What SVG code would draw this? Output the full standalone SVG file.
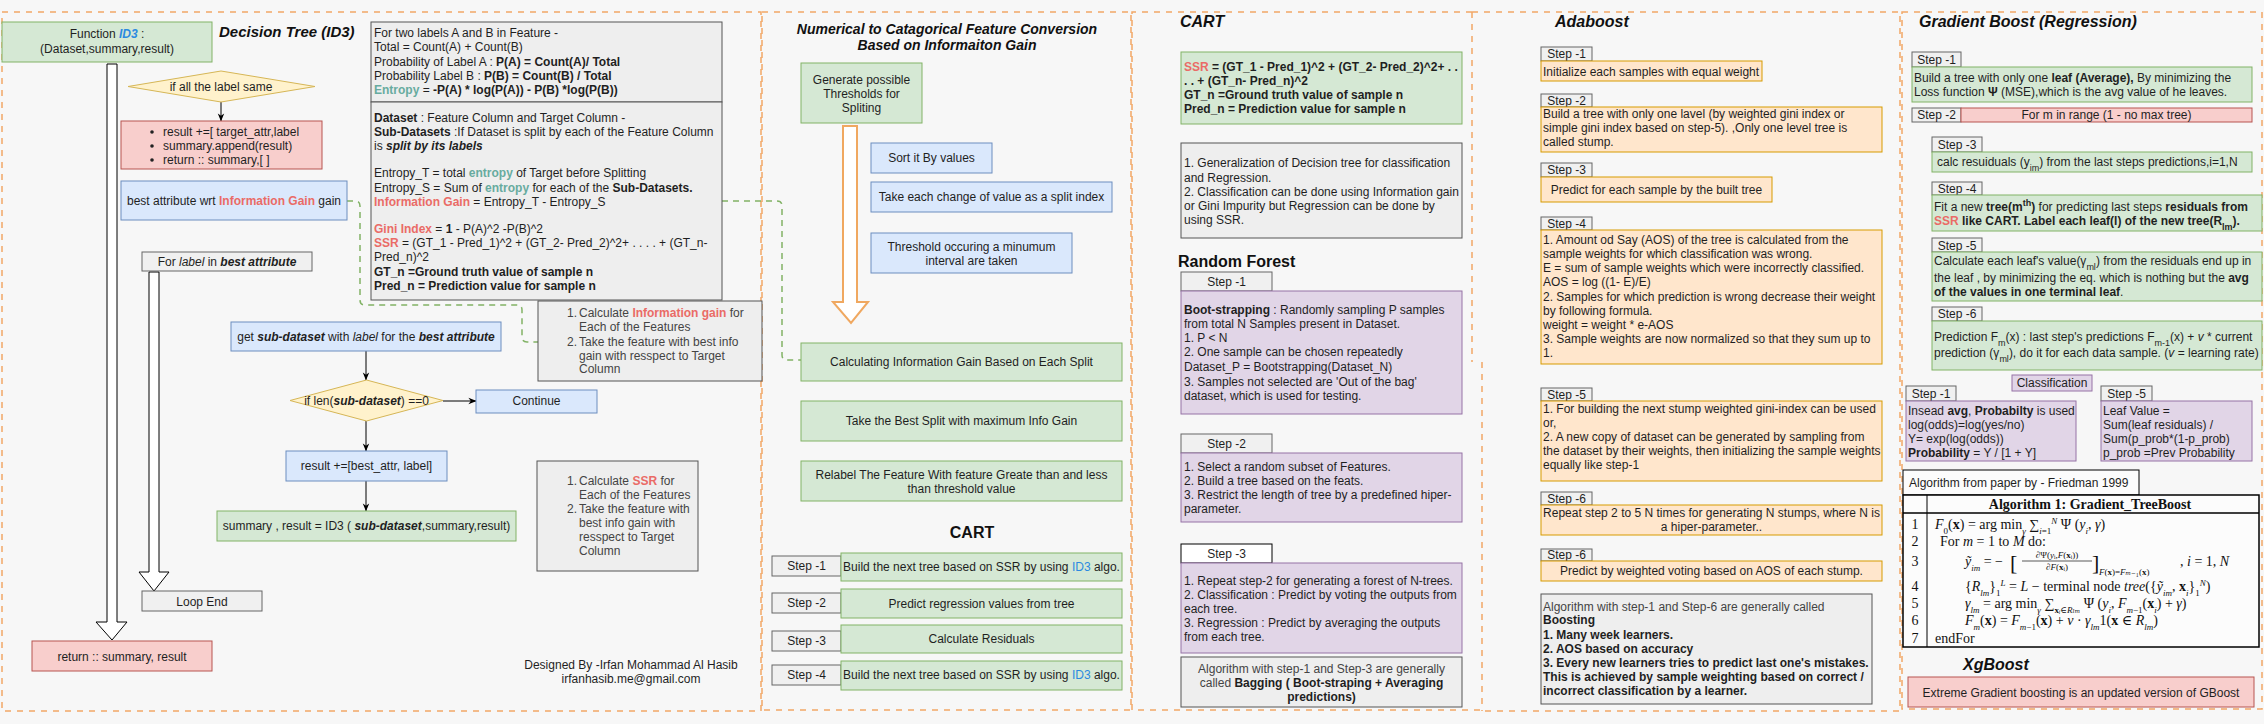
<svg xmlns="http://www.w3.org/2000/svg" width="2264" height="724" viewBox="0 0 2264 724">
<defs>
<marker id="ah" viewBox="0 0 10 10" refX="9.5" refY="5" markerWidth="8" markerHeight="8" orient="auto" markerUnits="userSpaceOnUse"><path d="M0,1 L10,5 L0,9 L3,5 Z" fill="#000"/></marker>
</defs>
<style>
text{font-family:"Liberation Sans",Arial,Helvetica,sans-serif;font-size:12px;fill:#1f1f1f}
.c{text-anchor:middle}
.b{font-weight:bold}
.i{font-style:italic}
.bi{font-weight:bold;font-style:italic}
.red{fill:#ea6b66;font-weight:bold}
.blue{fill:#2b8ae0}
.teal{fill:#67ab9f;font-weight:bold}
.h{font-weight:bold;font-style:italic;font-size:16px;fill:#111}
.hn{font-weight:bold;font-size:16px;fill:#111}
.sub{font-size:9px;baseline-shift:sub}
.sup{font-size:9px;baseline-shift:super}
.cont{fill:none;stroke:#f2a867;stroke-width:1.5;stroke-dasharray:6 6}
.gn{fill:#d5e8d4;stroke:#82b366}
.bl{fill:#dae8fc;stroke:#6c8ebf}
.rd{fill:#f8cecc;stroke:#b85450}
.yl{fill:#fff2cc;stroke:#d6b656}
.or{fill:#ffe6cc;stroke:#d79b00}
.pu{fill:#e1d5e7;stroke:#9673a6}
.gy{fill:#f0f0f0;stroke:#666}
.fb{fill:#eeeeee;stroke:#555}
.wt{fill:#fff;stroke:#000}
.ln{stroke:#000;stroke-width:1;fill:none;marker-end:url(#ah)}
.dg{stroke:#82b366;stroke-width:1.5;stroke-dasharray:6 5;fill:none}
.fa{fill:#fff;stroke:#000;stroke-width:1}
.oa{fill:#fff;stroke:#f0a860;stroke-width:2}
.m{font-family:"Liberation Serif","DejaVu Serif",serif;font-size:14px;fill:#111}
.gt{fill:#444}
</style>
<rect width="2264" height="724" fill="#f7f7f7"/>
<g id="containers">
<rect class="cont" x="2" y="12" width="759" height="699"/>
<rect class="cont" x="762" y="12" width="369" height="698"/>
<path class="cont" d="M1472,12 H1132 V710 H1482"/>
<path class="cont" d="M1472,12 V362"/>
<path class="cont" d="M1482,362 V711"/>
<path class="cont" d="M1472,12 H1900 V711 H1482"/>
<rect class="cont" x="1902" y="12" width="360" height="697"/>
</g>
<g id="connectors">
<path class="fa" d="M107,64 V622 H96 L112,640 L127,622 H117 V64 Z"/>
<path class="fa" d="M149,272 V572 H139 L154,591 L169,572 H159 V272 Z"/>
<line class="ln" x1="221" y1="102" x2="221" y2="121"/>
<line class="ln" x1="366" y1="351" x2="366" y2="380"/>
<line class="ln" x1="443" y1="401" x2="476" y2="401"/>
<line class="ln" x1="366" y1="421" x2="366" y2="451"/>
<line class="ln" x1="366" y1="481" x2="366" y2="511"/>
<path class="dg" d="M347,201 H355 Q360,201 360,206 V300 Q360,305 365,305 H517 Q522,305 522,310 V337 Q522,342 527,342 H538"/>
<path class="dg" d="M722,201 H777 Q782,201 782,206 V355 Q782,360 787,360 H801"/>
<path class="oa" d="M843,126 V302 H833 L851,323 L868,302 H857 V126 Z"/>
</g>

<!-- Decision tree -->
<g id="n-id3"><rect class="gn" x="2" y="22" width="210" height="40"/><text class="c" x="107" y="38">Function <tspan class="bi blue">ID3</tspan> :</text><text class="c" x="107" y="53">(Dataset,summary,result)</text></g>
<text id="t-dt" class="h" x="219" y="37" style="font-size:15px">Decision Tree (ID3)</text>
<g id="n-same"><polygon class="yl" points="221,71 315,86.5 221,102 128,86.5"/><text class="c" x="221" y="91">if all the label same</text></g>
<g id="n-leaf"><rect class="rd" x="121" y="121" width="201" height="48"/>
<circle cx="152" cy="132" r="1.8" fill="#222"/><circle cx="152" cy="146" r="1.8" fill="#222"/><circle cx="152" cy="160" r="1.8" fill="#222"/>
<text x="163" y="136">result +=[ target_attr,label</text><text x="163" y="150">summary.append(result)</text><text x="163" y="164">return ::  summary,[ ]</text></g>
<g id="n-best"><rect class="bl" x="121" y="181" width="226" height="39"/><text class="c" x="234" y="205">best attribute wrt <tspan class="red">Information Gain</tspan> gain</text></g>
<g id="n-for"><rect class="gy" x="142" y="252" width="170" height="19"/><text class="c" x="227" y="266">For <tspan class="i">label</tspan> in <tspan class="bi">best attribute</tspan></text></g>
<g id="n-loopend"><rect class="gy" x="142" y="591" width="120" height="20"/><text class="c" x="202" y="606">Loop End</text></g>
<g id="n-return"><rect class="rd" x="32" y="641" width="180" height="30"/><text class="c" x="122" y="661">return ::  summary, result</text></g>
<g id="n-sub"><rect class="bl" x="231" y="322" width="270" height="29"/><text class="c" x="366" y="341">get <tspan class="bi">sub-dataset</tspan> with <tspan class="i">label</tspan> for the <tspan class="bi">best attribute</tspan></text></g>
<g id="n-len"><polygon class="yl" points="366.5,380 443,400.5 366.5,421 290,400.5"/><text class="c" x="366.5" y="405">if len(<tspan class="bi">sub-dataset</tspan>) ==0</text></g>
<g id="n-continue"><rect class="bl" x="476" y="390" width="121" height="23"/><text class="c" x="536.5" y="405">Continue</text></g>
<g id="n-result"><rect class="bl" x="286" y="451" width="161" height="30"/><text class="c" x="366.5" y="470">result +=[best_attr, label]</text></g>
<g id="n-recurse"><rect class="gn" x="217" y="511" width="299" height="30"/><text class="c" x="366.5" y="530">summary , result = ID3 ( <tspan class="bi">sub-dataset</tspan>,summary,result)</text></g>
<g id="n-formulas">
<rect class="fb" x="371" y="22" width="351" height="80"/>
<rect class="fb" x="371" y="102" width="351" height="198"/>
<text x="374" y="37">For two labels A and B in Feature -</text>
<text x="374" y="51">Total = Count(A) + Count(B)</text>
<text x="374" y="66">Probability of Label A : <tspan class="b">P(A) = Count(A)/ Total</tspan></text>
<text x="374" y="80">Probability Label B : <tspan class="b">P(B) = Count(B) / Total</tspan></text>
<text x="374" y="94"><tspan class="teal">Entropy</tspan> =  <tspan class="b">-P(A) * log(P(A))  - P(B) *log(P(B))</tspan></text>
<text x="374" y="122"><tspan class="b">Dataset</tspan> : Feature Column and Target Column -</text>
<text x="374" y="136"><tspan class="b">Sub-Datasets</tspan> :If Dataset is split by each of the Feature Column</text>
<text x="374" y="150">is <tspan class="bi">split by its labels</tspan></text>
<text x="374" y="177">Entropy_T = total <tspan class="teal">entropy</tspan> of Target before Splitting</text>
<text x="374" y="192">Entropy_S = Sum of <tspan class="teal">entropy</tspan> for each of the <tspan class="b">Sub-Datasets.</tspan></text>
<text x="374" y="206"><tspan class="red">Information Gain</tspan> = Entropy_T - Entropy_S</text>
<text x="374" y="233"><tspan class="red">Gini Index</tspan> = <tspan class="b">1</tspan> - P(A)^2 -P(B)^2</text>
<text x="374" y="247"><tspan class="red">SSR</tspan> = (GT_1 - Pred_1)^2 + (GT_2- Pred_2)^2+ . . . . + (GT_n-</text>
<text x="374" y="261">Pred_n)^2</text>
<text x="374" y="276" class="b">GT_n =Ground truth value of sample n</text>
<text x="374" y="290" class="b">Pred_n = Prediction value for sample n</text>
</g>
<g id="n-ig"><rect class="fb" x="538" y="301" width="224" height="80"/>
<text x="577" y="317" text-anchor="end" class="gt">1.</text><text x="579" y="317" class="gt">Calculate <tspan class="red">Information gain</tspan> for</text>
<text x="579" y="331" class="gt">Each of the Features</text>
<text x="577" y="346" text-anchor="end" class="gt">2.</text><text x="579" y="346" class="gt">Take the feature with best info</text>
<text x="579" y="360" class="gt">gain with resspect to Target</text>
<text x="579" y="373" class="gt">Column</text></g>
<g id="n-ssr"><rect class="fb" x="537" y="461" width="161" height="110"/>
<text x="577" y="485" text-anchor="end" class="gt">1.</text><text x="579" y="485" class="gt">Calculate <tspan class="red">SSR</tspan> for</text>
<text x="579" y="499" class="gt">Each of the Features</text>
<text x="577" y="513" text-anchor="end" class="gt">2.</text><text x="579" y="513" class="gt">Take the feature with</text>
<text x="579" y="527" class="gt">best info gain with</text>
<text x="579" y="541" class="gt">resspect to Target</text>
<text x="579" y="555" class="gt">Column</text></g>
<g id="credit"><text class="c" x="631" y="669">Designed By -Irfan Mohammad Al Hasib</text><text class="c" x="631" y="683">irfanhasib.me@gmail.com</text></g>

<!-- Numerical -->
<g id="t-num"><text class="h c" x="947" y="34" style="font-size:14px">Numerical to Catagorical Feature Conversion</text><text class="h c" x="947" y="50" style="font-size:14px">Based on Informaiton  Gain</text></g>
<g id="n-gen"><rect class="gn" x="801" y="63" width="121" height="60"/><text class="c" x="861.5" y="84">Generate possible</text><text class="c" x="861.5" y="98">Thresholds for</text><text class="c" x="861.5" y="112">Spliting</text></g>
<g id="n-sort"><rect class="bl" x="871" y="143" width="121" height="30"/><text class="c" x="931.5" y="162">Sort it By values</text></g>
<g id="n-change"><rect class="bl" x="871" y="182" width="241" height="30"/><text class="c" x="991.5" y="201">Take each change of value as a split index</text></g>
<g id="n-thr"><rect class="bl" x="871" y="233" width="201" height="40"/><text class="c" x="971.5" y="251">Threshold occuring a minumum</text><text class="c" x="971.5" y="265">interval are taken</text></g>
<g id="n-calcig"><rect class="gn" x="801" y="343" width="321" height="38"/><text class="c" x="961.5" y="366">Calculating Information Gain Based on Each Split</text></g>
<g id="n-bestsplit"><rect class="gn" x="801" y="401" width="321" height="40"/><text class="c" x="961.5" y="425">Take the Best Split with maximum Info Gain</text></g>
<g id="n-relabel"><rect class="gn" x="801" y="461" width="321" height="40"/><text class="c" x="961.5" y="479">Relabel The Feature With feature Greate than and less</text><text class="c" x="961.5" y="493">than threshold value</text></g>
<text id="t-cart2" class="hn c" x="972" y="538">CART</text>
<g id="n-c1"><rect class="gy" x="772" y="556" width="69" height="20"/><text class="c" x="806.5" y="570">Step -1</text><rect class="gn" x="841" y="553" width="281" height="28"/><text class="c" x="981.5" y="571">Build the next tree based on SSR by using <tspan class="blue">ID3</tspan> algo.</text></g>
<g id="n-c2"><rect class="gy" x="772" y="593" width="69" height="20"/><text class="c" x="806.5" y="607">Step -2</text><rect class="gn" x="841" y="589" width="281" height="29"/><text class="c" x="981.5" y="608">Predict regression values from tree</text></g>
<g id="n-c3"><rect class="gy" x="772" y="631" width="69" height="20"/><text class="c" x="806.5" y="645">Step -3</text><rect class="gn" x="841" y="625" width="281" height="28"/><text class="c" x="981.5" y="643">Calculate Residuals</text></g>
<g id="n-c4"><rect class="gy" x="772" y="665" width="69" height="20"/><text class="c" x="806.5" y="679">Step -4</text><rect class="gn" x="841" y="661" width="281" height="29"/><text class="c" x="981.5" y="679">Build the next tree based on SSR by using <tspan class="blue">ID3</tspan> algo.</text></g>

<!-- CART / RF -->
<text id="t-cart" class="h" x="1180" y="27">CART</text>
<g id="n-cartssr"><rect class="gn" x="1181" y="52" width="281" height="72"/>
<text x="1184" y="71" class="b"><tspan class="red">SSR</tspan> = (GT_1 - Pred_1)^2 + (GT_2- Pred_2)^2+ . .</text>
<text x="1184" y="85" class="b">. . + (GT_n- Pred_n)^2</text>
<text x="1184" y="99" class="b">GT_n =Ground truth value of sample n</text>
<text x="1184" y="113" class="b">Pred_n = Prediction value for sample n</text></g>
<g id="n-cartnote"><rect class="fb" x="1181" y="143" width="281" height="95"/>
<text x="1184" y="167">1. Generalization of Decision tree for classification</text>
<text x="1184" y="182">and Regression.</text>
<text x="1184" y="196">2. Classification can be done using Information gain</text>
<text x="1184" y="210">or Gini Impurity but Regression can be done by</text>
<text x="1184" y="224">using SSR.</text></g>
<text id="t-rf" class="hn" x="1178" y="267">Random Forest</text>
<g id="n-rf1"><rect class="gy" x="1181" y="272" width="91" height="19"/><text class="c" x="1226.5" y="286">Step -1</text>
<rect class="pu" x="1181" y="291" width="281" height="123"/>
<text x="1184" y="314"><tspan class="b">Boot-strapping</tspan> : Randomly sampling P samples</text>
<text x="1184" y="328">from total N Samples present in Dataset.</text>
<text x="1184" y="342">1. P &lt; N</text>
<text x="1184" y="356">2. One sample can be chosen repeatedly</text>
<text x="1184" y="371">Dataset_P = Bootstrapping(Dataset_N)</text>
<text x="1184" y="385.5">3. Samples not selected are 'Out of the bag'</text>
<text x="1184" y="400">dataset, which is used for testing.</text></g>
<g id="n-rf2"><rect class="gy" x="1181" y="434" width="91" height="19"/><text class="c" x="1226.5" y="448">Step -2</text>
<rect class="pu" x="1181" y="453" width="281" height="69"/>
<text x="1184" y="471">1. Select a random subset of Features.</text>
<text x="1184" y="485">2. Build a tree based on the feats.</text>
<text x="1184" y="499">3. Restrict the length of tree by a predefined  hiper-</text>
<text x="1184" y="513">parameter.</text></g>
<g id="n-rf3"><rect class="wt" x="1181" y="544" width="91" height="19"/><text class="c" x="1226.5" y="558">Step -3</text>
<rect class="pu" x="1181" y="563" width="281" height="90"/>
<text x="1184" y="585">1. Repeat step-2 for generating a forest of N-trees.</text>
<text x="1184" y="599">2. Classification : Predict by voting the outputs from</text>
<text x="1184" y="613">each tree.</text>
<text x="1184" y="627">3. Regression : Predict by averaging the outputs</text>
<text x="1184" y="641">from each tree.</text></g>
<g id="n-bagging"><rect class="fb" x="1181" y="657" width="281" height="50"/>
<text class="c gt" x="1321.5" y="673">Algorithm with step-1 and Step-3 are generally</text>
<text class="c gt" x="1321.5" y="687">called <tspan class="b" style="fill:#1f1f1f">Bagging ( Boot-straping + Averaging</tspan></text>
<text class="c b" x="1321.5" y="701">predictions)</text></g>

<!-- Adaboost -->
<text id="t-ada" class="h" x="1555" y="27">Adaboost</text>
<g id="n-a1"><rect class="gy" x="1541" y="47" width="51" height="14"/><text class="c" x="1566.5" y="58">Step -1</text>
<rect class="or" x="1541" y="61" width="221" height="20"/><text x="1543" y="76">Initialize each samples with equal weight</text></g>
<g id="n-a2"><rect class="gy" x="1541" y="94" width="51" height="13"/><text class="c" x="1566.5" y="105">Step -2</text>
<rect class="or" x="1541" y="107" width="341" height="45"/>
<text x="1543" y="118">Build a tree with only one lavel (by weighted gini index or</text>
<text x="1543" y="132">simple gini index based on step-5). ,Only one level tree is</text>
<text x="1543" y="146">called stump.</text></g>
<g id="n-a3"><rect class="gy" x="1541" y="163" width="51" height="14"/><text class="c" x="1566.5" y="174">Step -3</text>
<rect class="or" x="1541" y="177" width="231" height="25"/><text class="c" x="1656.5" y="194">Predict for each sample by the built tree</text></g>
<g id="n-a4"><rect class="gy" x="1541" y="217" width="51" height="13"/><text class="c" x="1566.5" y="228">Step -4</text>
<rect class="or" x="1541" y="230" width="341" height="134"/>
<text x="1543" y="244">1. Amount od Say (AOS) of the tree is calculated from the</text>
<text x="1543" y="258">sample weights for which classification was wrong.</text>
<text x="1543" y="272">E = sum of sample weights which were incorrectly classified.</text>
<text x="1543" y="286">AOS =  log ((1- E)/E)</text>
<text x="1543" y="301">2. Samples for which prediction is wrong decrease their weight</text>
<text x="1543" y="315">by following formula.</text>
<text x="1543" y="329">weight = weight * e-AOS</text>
<text x="1543" y="343">3. Sample weights are now normalized so that they sum up to</text>
<text x="1543" y="357">1.</text></g>
<g id="n-a5"><rect class="gy" x="1541" y="388" width="51" height="13"/><text class="c" x="1566.5" y="399">Step -5</text>
<rect class="or" x="1541" y="401" width="341" height="80"/>
<text x="1543" y="413">1. For  building the next stump weighted gini-index can be used</text>
<text x="1543" y="427">or,</text>
<text x="1543" y="441">2. A new copy of dataset can be generated by sampling from</text>
<text x="1543" y="455">the dataset by their weights, then initializing the sample weights</text>
<text x="1543" y="469">equally like step-1</text></g>
<g id="n-a6"><rect class="gy" x="1541" y="492" width="51" height="13"/><text class="c" x="1566.5" y="503">Step -6</text>
<rect class="or" x="1541" y="505" width="341" height="30"/>
<text class="c" x="1711.5" y="517">Repeat step 2 to 5 N times for generating N stumps, where N is</text>
<text class="c" x="1711.5" y="531">a hiper-parameter..</text></g>
<g id="n-a7"><rect class="gy" x="1541" y="549" width="51" height="12"/><text class="c" x="1566.5" y="559">Step -6</text>
<rect class="or" x="1541" y="561" width="341" height="20"/><text class="c" x="1711.5" y="575">Predict by weighted voting based on AOS of each stump.</text></g>
<g id="n-boost"><rect class="fb" x="1541" y="594" width="331" height="110"/>
<text x="1543" y="611" class="gt">Algorithm with step-1 and Step-6 are generally called</text>
<text x="1543" y="624" class="b">Boosting</text>
<text x="1543" y="639" class="b">1. Many week learners.</text>
<text x="1543" y="653" class="b">2. AOS based on accuracy</text>
<text x="1543" y="667" class="b">3. Every new learners tries to predict last one's mistakes.</text>
<text x="1543" y="681" class="b">This is achieved by sample weighting based on correct /</text>
<text x="1543" y="695" class="b">incorrect classification by a learner.</text></g>

<!-- Gradient boost -->
<text id="t-gb" class="h" x="1919" y="27">Gradient Boost (Regression)</text>
<g id="n-g1"><rect class="gy" x="1912" y="52" width="49" height="15"/><text class="c" x="1936.5" y="64">Step -1</text>
<rect class="gn" x="1912" y="67" width="340" height="35"/>
<text x="1914" y="82">Build a tree with only one <tspan class="b">leaf (Average),</tspan> By minimizing the</text>
<text x="1914" y="96">Loss function <tspan class="b">Ψ</tspan> (MSE),which is the avg value of he leaves.</text></g>
<g id="n-g2"><rect class="gy" x="1912" y="108" width="49" height="14"/><text class="c" x="1936.5" y="119">Step -2</text>
<rect class="rd" x="1961" y="108" width="291" height="14"/><text class="c" x="2106.5" y="119">For m in range (1 - no max tree)</text></g>
<g id="n-g3"><rect class="gy" x="1932" y="137" width="50" height="15"/><text class="c" x="1957" y="149">Step -3</text>
<rect class="gn" x="1932" y="152" width="320" height="20"/><text x="1937" y="166">calc resuiduals (y<tspan class="sub">im</tspan>) from the last steps predictions,i=1,N</text></g>
<g id="n-g4"><rect class="gy" x="1932" y="182" width="50" height="13"/><text class="c" x="1957" y="193">Step -4</text>
<rect class="gn" x="1932" y="195" width="330" height="36"/>
<text x="1934" y="211">Fit a new <tspan class="b">tree(m</tspan><tspan class="b sup">th</tspan><tspan class="b">)</tspan>  for predicting last steps <tspan class="b">residuals from</tspan></text>
<text x="1934" y="225"><tspan class="red">SSR</tspan><tspan class="b"> like CART. Label each leaf(l) of the new tree(R</tspan><tspan class="b sub">lm</tspan><tspan class="b">).</tspan></text></g>
<g id="n-g5"><rect class="gy" x="1932" y="238" width="50" height="14"/><text class="c" x="1957" y="250">Step -5</text>
<rect class="gn" x="1932" y="252" width="330" height="49"/>
<text x="1934" y="265">Calculate each leaf's value(γ<tspan class="sub">ml</tspan>) from the residuals end up in</text>
<text x="1934" y="282">the leaf , by minimizing the  eq. which is nothing but the <tspan class="b">avg</tspan></text>
<text x="1934" y="296"><tspan class="b">of the values in one terminal leaf</tspan>.</text></g>
<g id="n-g6"><rect class="gy" x="1932" y="307" width="50" height="14"/><text class="c" x="1957" y="318">Step -6</text>
<rect class="gn" x="1932" y="321" width="330" height="49"/>
<text x="1934" y="341">Prediction F<tspan class="sub">m</tspan>(x) : last step's predictions F<tspan class="sub">m-1</tspan>(x) + <tspan class="i">v</tspan> * current</text>
<text x="1934" y="357">prediction (γ<tspan class="sub">ml</tspan>), do it for each data sample. (<tspan class="i">v</tspan> = learning rate)</text></g>
<g id="n-class"><rect class="pu" x="2012" y="375" width="80" height="16"/><text class="c" x="2052" y="387">Classification</text></g>
<g id="n-gc1"><rect class="gy" x="1906" y="386" width="50" height="15"/><text class="c" x="1931" y="398">Step -1</text>
<rect class="pu" x="1906" y="401" width="170" height="60"/>
<text x="1908" y="415">Insead <tspan class="b">avg</tspan>, <tspan class="b">Probabilty</tspan> is used</text>
<text x="1908" y="429">log(odds)=log(yes/no)</text>
<text x="1908" y="443">Y= exp(log(odds))</text>
<text x="1908" y="457"><tspan class="b">Probability</tspan> = Y / [1 + Y]</text></g>
<g id="n-gc5"><rect class="gy" x="2101" y="386" width="51" height="15"/><text class="c" x="2126.5" y="398">Step -5</text>
<rect class="pu" x="2101" y="401" width="151" height="60"/>
<text x="2103" y="415">Leaf Value =</text>
<text x="2103" y="429">Sum(leaf residuals) /</text>
<text x="2103" y="443">Sum(p_prob*(1-p_prob)</text>
<text x="2103" y="457">p_prob =Prev Probability</text></g>
<g id="n-friedman"><rect fill="#fcfcfc" stroke="#000" x="1903" y="470" width="236" height="25"/><text x="1909" y="487">Algorithm from paper by - Friedman 1999</text></g>
<g id="n-algo">
<rect fill="#fcfcfc" stroke="#000" stroke-width="1.5" x="1903" y="495" width="356" height="152"/>
<line x1="1903" y1="513" x2="2259" y2="513" stroke="#000" stroke-width="1.5"/>
<line x1="1927" y1="495" x2="1927" y2="647" stroke="#000" stroke-width="1"/>
<text class="m c b" x="2090" y="509">Algorithm 1: Gradient_TreeBoost</text>
<text class="m c" x="1915" y="529">1</text><text class="m c" x="1915" y="546">2</text><text class="m c" x="1915" y="566">3</text><text class="m c" x="1915" y="591">4</text><text class="m c" x="1915" y="608">5</text><text class="m c" x="1915" y="625">6</text><text class="m c" x="1915" y="643">7</text>
<text class="m" x="1935" y="529"><tspan class="i">F</tspan><tspan class="sub">0</tspan>(<tspan class="b">x</tspan>) = arg min<tspan class="sub i">γ</tspan> ∑<tspan class="sub"><tspan class="i">i</tspan>=1</tspan><tspan class="sup i">N</tspan>  Ψ (<tspan class="i">y</tspan><tspan class="sub i">i</tspan>, <tspan class="i">γ</tspan>)</text>
<text class="m" x="1940" y="546">For <tspan class="i">m</tspan> = 1 to <tspan class="i">M</tspan> do:</text>
<text class="m" x="1965" y="566"><tspan class="i">ỹ</tspan><tspan class="sub i">im</tspan> = −</text>
<text class="m" x="2010" y="570" style="font-size:22px">[</text>
<text class="m c" x="2057" y="558" style="font-size:9px">∂Ψ(<tspan class="i">y</tspan>ᵢ,<tspan class="i">F</tspan>(<tspan class="b">x</tspan>ᵢ))</text>
<line x1="2022" y1="561" x2="2092" y2="561" stroke="#111" stroke-width="0.7"/>
<text class="m c" x="2057" y="570" style="font-size:9px">∂<tspan class="i">F</tspan>(<tspan class="b">x</tspan>ᵢ)</text>
<text class="m" x="2092" y="570" style="font-size:22px">]</text>
<text class="m" x="2099" y="575" style="font-size:9px"><tspan class="i">F</tspan>(<tspan class="b">x</tspan>)=<tspan class="i">F</tspan><tspan class="i">ₘ</tspan>₋₁(<tspan class="b">x</tspan>)</text>
<text class="m" x="2180" y="566">,  <tspan class="i">i</tspan> = 1, <tspan class="i">N</tspan></text>
<text class="m" x="1965" y="591">{<tspan class="i">R</tspan><tspan class="sub i">lm</tspan>}<tspan class="sub">1</tspan><tspan class="sup i">L</tspan> = <tspan class="i">L</tspan> − terminal node <tspan class="i">tree</tspan>({<tspan class="i">ỹ</tspan><tspan class="sub i">im</tspan>, <tspan class="b">x</tspan><tspan class="sub i">i</tspan>}<tspan class="sub">1</tspan><tspan class="sup i">N</tspan>)</text>
<text class="m" x="1965" y="608"><tspan class="i">γ</tspan><tspan class="sub i">lm</tspan> = arg min<tspan class="sub i">γ</tspan> ∑<tspan class="sub"><tspan class="b">x</tspan><tspan class="i">ᵢ</tspan>∈<tspan class="i">R</tspan><tspan class="i">ₗₘ</tspan></tspan> Ψ (<tspan class="i">y</tspan><tspan class="sub i">i</tspan>, <tspan class="i">F</tspan><tspan class="sub"><tspan class="i">m</tspan>−1</tspan>(<tspan class="b">x</tspan><tspan class="sub i">i</tspan>) + <tspan class="i">γ</tspan>)</text>
<text class="m" x="1965" y="625"><tspan class="i">F</tspan><tspan class="sub i">m</tspan>(<tspan class="b">x</tspan>) = <tspan class="i">F</tspan><tspan class="sub"><tspan class="i">m</tspan>−1</tspan>(<tspan class="b">x</tspan>) + <tspan class="i">ν</tspan> · <tspan class="i">γ</tspan><tspan class="sub i">lm</tspan>1(<tspan class="b">x</tspan> ∈ <tspan class="i">R</tspan><tspan class="sub i">lm</tspan>)</text>
<text class="m" x="1935" y="643">endFor</text>
</g>
<text id="t-xg" class="h" x="1963" y="670">XgBoost</text>
<g id="n-xg"><rect class="rd" x="1908" y="677" width="346" height="30"/><text class="c" x="2081" y="697">Extreme Gradient boosting is an updated version of GBoost</text></g>
</svg>
